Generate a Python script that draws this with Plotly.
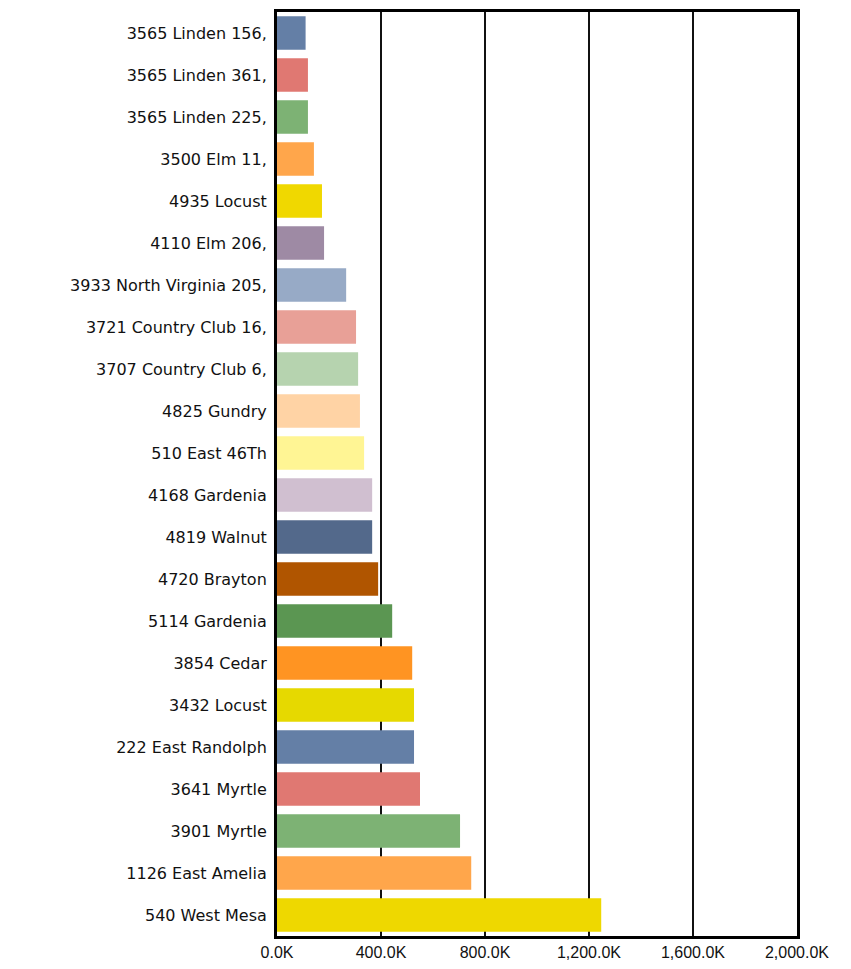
import plotly.graph_objects as go

properties = [
    "3565 Linden 156,", "3565 Linden 361,", "3565 Linden 225,", "3500 Elm 11,",
    "4935 Locust", "4110 Elm 206,", "3933 North Virginia 205,", "3721 Country Club 16,",
    "3707 Country Club 6,", "4825 Gundry", "510 East 46Th", "4168 Gardenia",
    "4819 Walnut", "4720 Brayton", "5114 Gardenia", "3854 Cedar", "3432 Locust",
    "222 East Randolph", "3641 Myrtle", "3901 Myrtle", "1126 East Amelia", "540 West Mesa",
]
values_k = [110, 119, 119, 142, 173, 181, 266, 304, 312, 319, 335, 366,
            366, 389, 443, 520, 527, 527, 550, 704, 747, 1247]
bar_colors = [
    "#647FA6", "#E07872", "#7DB274", "#FFA64B", "#F0D800", "#9E8AA4",
    "#97AAC6", "#E8A097", "#B6D3AF", "#FFD3A5", "#FFF594", "#D0BFD0",
    "#53698B", "#B05500", "#5B9652", "#FF9422", "#E6D900", "#647FA6",
    "#E07872", "#7DB274", "#FFA64B", "#EED800",
]
x_ticks = [0, 400, 800, 1200, 1600, 2000]
x_tick_labels = [f"{v:,.1f}K" for v in x_ticks]

fig = go.Figure(go.Bar(
    x=values_k, y=properties, orientation="h",
    marker=dict(color=bar_colors, line=dict(width=0)),
))

fig.update_layout(
    width=843, height=961,
    margin=dict(l=269, r=54, t=1, b=33),
    paper_bgcolor="white", plot_bgcolor="white",
    bargap=0.2, showlegend=False,
    font=dict(family="DejaVu Sans", color="#111"),
)
fig.update_xaxes(
    range=[0, 2000], tickvals=x_ticks, ticktext=x_tick_labels,
    showgrid=True, gridcolor="#111", gridwidth=2,
    showline=True, linecolor="black", linewidth=3, mirror=True,
    zeroline=False, ticks="",
    tickfont=dict(family="Liberation Sans", size=16, color="#111"),
)
fig.update_yaxes(
    autorange="reversed", categoryorder="array", categoryarray=properties,
    showline=True, linecolor="black", linewidth=3, mirror=True,
    showgrid=False, ticks="", ticklabelstandoff=4,
    tickfont=dict(family="DejaVu Sans", size=16, color="#111"),
)

fig.write_html("out.html")
